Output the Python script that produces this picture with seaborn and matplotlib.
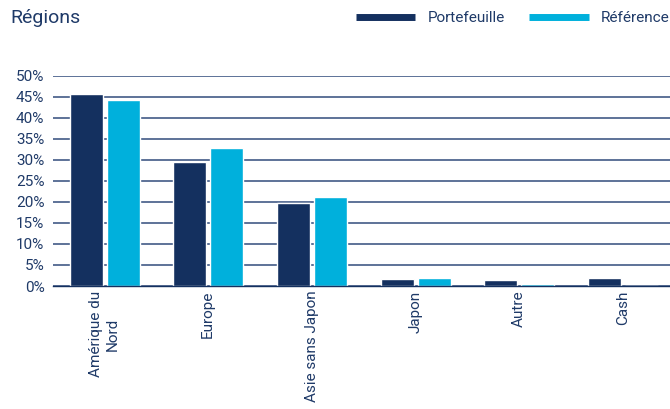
import matplotlib
matplotlib.use("Agg")
import matplotlib.pyplot as plt
import seaborn as sns
import pandas as pd
from matplotlib.lines import Line2D
from matplotlib.ticker import FuncFormatter

regions = ["Amérique du\nNord", "Europe", "Asie sans Japon", "Japon", "Autre", "Cash"]
portefeuille = [45.5, 29.5, 19.8, 1.6, 1.35, 1.9]
reference = [44.1, 32.7, 21.1, 1.9, 0.5, 0.0]
series = ["Portefeuille", "Référence"]

navy = "#14305f"
cyan = "#00b0dc"
text_col = "#1f3a68"

df = pd.DataFrame({
    "region": regions * 2,
    "value": portefeuille + reference,
    "serie": [series[0]] * len(regions) + [series[1]] * len(regions),
})

sns.set_style("white")
plt.rcParams["font.family"] = ["Roboto", "DejaVu Sans"]

fig = plt.figure(figsize=(6.7, 4.09), dpi=100)
# axis runs slightly past the right edge, as in the original
ax = fig.add_axes([0.0787, 0.3007, 0.9284, 0.5147])

sns.barplot(data=df, x="region", y="value", hue="serie",
            palette=[navy, cyan], width=0.714, gap=0.11,
            ax=ax, legend=False, saturation=1)

ax.set_ylim(0, 50)
ax.set_yticks(range(0, 51, 5))
ax.yaxis.set_major_formatter(FuncFormatter(lambda v, p: f"{int(v)}%"))
ax.grid(axis="y", color="#324c7c", linewidth=1.1)
ax.set_axisbelow(True)
for s in ["left", "right", "top"]:
    ax.spines[s].set_visible(False)
ax.spines["bottom"].set_color(navy)
ax.spines["bottom"].set_linewidth(1.0)
ax.tick_params(axis="both", length=0, colors=text_col, labelsize=11)
ax.tick_params(axis="y", pad=6)
plt.setp(ax.get_xticklabels(), rotation=90, va="top", ha="center")
ax.set_xlabel("")
ax.set_ylabel("")

fig.text(0.015, 0.955, "Régions", fontsize=14, color=text_col, va="center")

handles = [Line2D([0], [0], color=navy, lw=5, solid_capstyle="butt"),
           Line2D([0], [0], color=cyan, lw=5, solid_capstyle="butt")]
fig.legend(handles, series, loc="center right", bbox_to_anchor=(1.02, 0.955),
           ncol=2, frameon=False, fontsize=11, handlelength=3.9,
           columnspacing=1.6, labelcolor=text_col)

fig.savefig("out.png", dpi=100)
